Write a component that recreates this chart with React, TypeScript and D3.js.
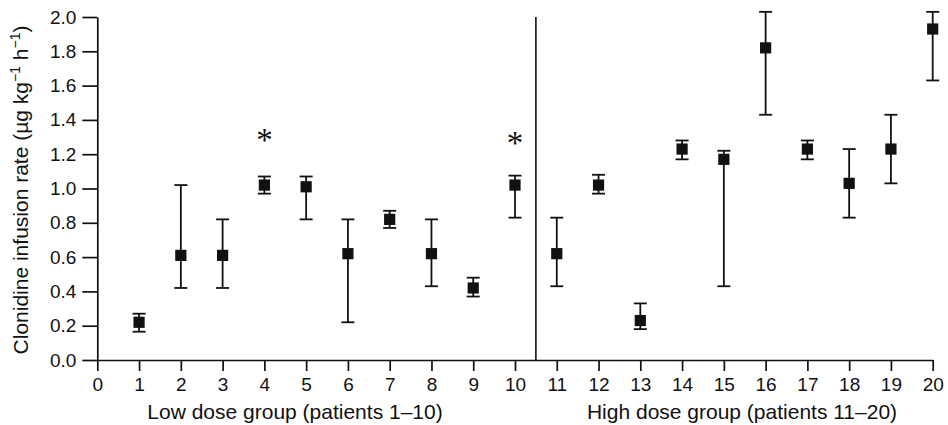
import React, { useEffect, useRef } from 'react';
import * as d3 from 'd3';

// patients 1-20, mean infusion rate and range (µg kg-1 h-1)
const patients = [1, 2, 3, 4, 5, 6, 7, 8, 9, 10, 11, 12, 13, 14, 15, 16, 17, 18, 19, 20];
const means = [0.22, 0.61, 0.61, 1.02, 1.01, 0.62, 0.82, 0.62, 0.42, 1.02, 0.62, 1.02, 0.23, 1.23, 1.17, 1.82, 1.23, 1.03, 1.23, 1.93];
const upper = [0.27, 1.02, 0.82, 1.07, 1.07, 0.82, 0.87, 0.82, 0.48, 1.075, 0.83, 1.08, 0.33, 1.28, 1.22, 2.03, 1.28, 1.23, 1.43, 2.03];
const lower = [0.165, 0.42, 0.42, 0.97, 0.82, 0.22, 0.77, 0.43, 0.37, 0.83, 0.43, 0.97, 0.18, 1.17, 0.43, 1.43, 1.17, 0.83, 1.03, 1.63];

// asterisks marking patients 4 and 10
const starPatients = [4, 10];
const starValues = [1.32, 1.30];

const xTicks = [0, 1, 2, 3, 4, 5, 6, 7, 8, 9, 10, 11, 12, 13, 14, 15, 16, 17, 18, 19, 20];
const yTicks = [0, 0.2, 0.4, 0.6, 0.8, 1.0, 1.2, 1.4, 1.6, 1.8, 2.0];
const groupSplit = 10.5;

function App() {
  const svgRef = useRef(null);

  useEffect(() => {
    const svg = d3.select(svgRef.current);
    svg.selectAll('*').remove();

    const font = 'Liberation Sans, Arial, Helvetica, sans-serif';
    const ink = '#111';

    const x = d3.scaleLinear().domain([0, 20]).range([97.3, 932.7]);
    const y = d3.scaleLinear().domain([0, 2]).range([360, 17]);

    // y axis
    const yAxis = svg.append('g')
      .attr('transform', `translate(${x(0)},0)`)
      .call(d3.axisLeft(y).tickValues(yTicks).tickFormat(d3.format('.1f'))
        .tickSize(15).tickSizeOuter(0).tickPadding(6));
    yAxis.selectAll('text').attr('font-size', 19).attr('font-family', font).attr('fill', ink);

    // x axis
    const xAxis = svg.append('g')
      .attr('transform', `translate(0,${y(0)})`)
      .call(d3.axisBottom(x).tickValues(xTicks).tickFormat(d3.format('d'))
        .tickSize(11).tickSizeOuter(0).tickPadding(7));
    xAxis.selectAll('text').attr('font-size', 19).attr('font-family', font).attr('fill', ink);

    svg.selectAll('.domain, .tick line').attr('stroke', ink).attr('stroke-width', 1.7);

    // divider between dose groups
    svg.append('line')
      .attr('x1', x(groupSplit)).attr('x2', x(groupSplit))
      .attr('y1', y(2)).attr('y2', y(0))
      .attr('stroke', ink).attr('stroke-width', 1.6);

    const rows = patients.map((p, i) => ({ p, m: means[i], hi: upper[i], lo: lower[i] }));
    const cap = 6.5;
    const g = svg.append('g').attr('stroke', ink).attr('stroke-width', 1.8);

    g.selectAll('line.stem').data(rows).join('line')
      .attr('x1', d => x(d.p)).attr('x2', d => x(d.p))
      .attr('y1', d => y(d.hi)).attr('y2', d => y(d.lo));
    g.selectAll('line.top').data(rows).join('line')
      .attr('x1', d => x(d.p) - cap).attr('x2', d => x(d.p) + cap)
      .attr('y1', d => y(d.hi)).attr('y2', d => y(d.hi));
    g.selectAll('line.bot').data(rows).join('line')
      .attr('x1', d => x(d.p) - cap).attr('x2', d => x(d.p) + cap)
      .attr('y1', d => y(d.lo)).attr('y2', d => y(d.lo));

    svg.selectAll('rect.pt').data(rows).join('rect')
      .attr('x', d => x(d.p) - 5.6).attr('y', d => y(d.m) - 5.6)
      .attr('width', 11.2).attr('height', 11.2)
      .attr('fill', ink);

    // significance asterisks
    svg.selectAll('text.star').data(starPatients).join('text')
      .attr('x', d => x(d)).attr('y', (d, i) => y(starValues[i]) + 17)
      .attr('text-anchor', 'middle')
      .attr('font-family', 'Liberation Serif, Times New Roman, serif')
      .attr('font-size', 33).attr('fill', ink)
      .text('*');

    // axis titles
    svg.append('text')
      .attr('x', 295).attr('y', 419)
      .attr('text-anchor', 'middle')
      .attr('font-family', font).attr('font-size', 21).attr('fill', ink)
      .text('Low dose group (patients 1–10)');
    svg.append('text')
      .attr('x', 742).attr('y', 419)
      .attr('text-anchor', 'middle')
      .attr('font-family', font).attr('font-size', 21).attr('fill', ink)
      .text('High dose group (patients 11–20)');

    const yt = svg.append('text')
      .attr('transform', 'translate(28,190) rotate(-90)')
      .attr('text-anchor', 'middle')
      .attr('font-family', font).attr('font-size', 21).attr('fill', ink);
    yt.append('tspan').text('Clonidine infusion rate (µg kg');
    yt.append('tspan').attr('dy', -8).attr('font-size', 14).text('−1');
    yt.append('tspan').attr('dy', 8).text(' h');
    yt.append('tspan').attr('dy', -8).attr('font-size', 14).text('−1');
    yt.append('tspan').attr('dy', 8).text(')');
  }, []);

  return (
    <svg ref={svgRef} width={948} height={425}
      style={{ position: 'absolute', left: 0, top: 0, background: '#fff' }}>
      {/* chart is drawn by d3 in the effect */}
    </svg>
  );
}

export default App;
